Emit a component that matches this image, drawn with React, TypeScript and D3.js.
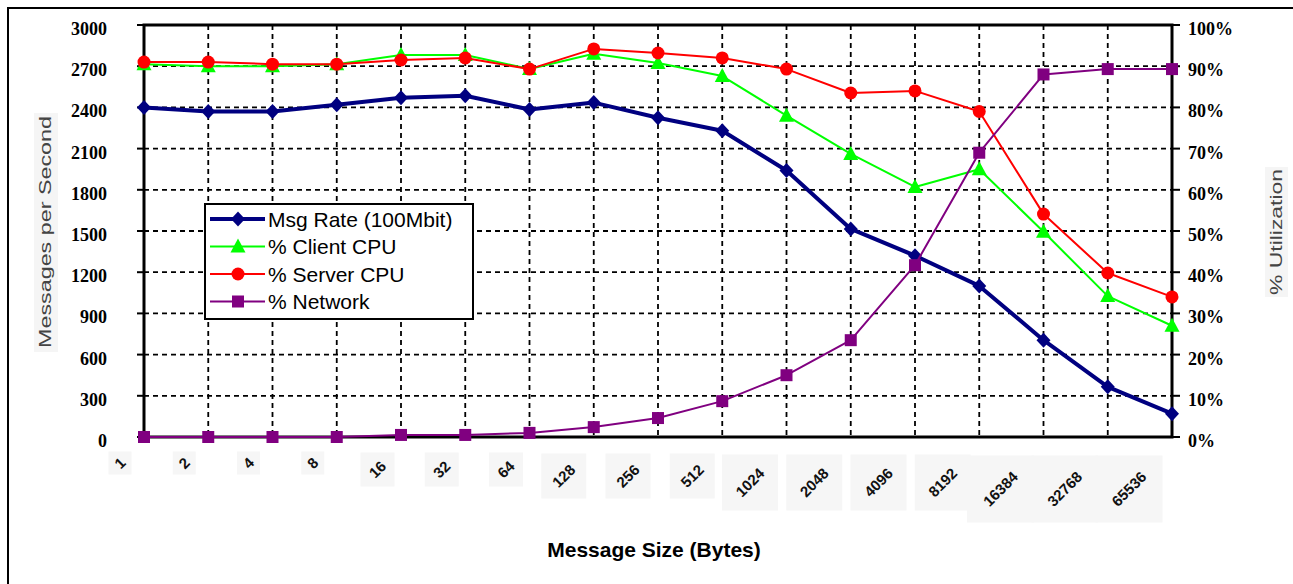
import React from 'react';
import * as d3 from 'd3';

const categories = ['1', '2', '4', '8', '16', '32', '64', '128', '256', '512', '1024', '2048', '4096', '8192', '16384', '32768', '65536'];
const msgRate = [2400, 2370, 2370, 2420, 2470, 2485, 2385, 2435, 2325, 2230, 1940, 1515, 1320, 1100, 705, 365, 170];
const clientCpu = [90.5, 90, 90, 90.5, 92.7, 92.7, 89.3, 93, 90.8, 87.6, 78, 68.7, 60.7, 65, 49.8, 34.2, 27];
const serverCpu = [91, 91, 90.5, 90.5, 91.5, 92, 89.3, 94.2, 93.2, 92, 89.3, 83.5, 84, 79, 54.1, 39.8, 34];
const network = [0, 0, 0, 0, 0.5, 0.5, 1, 2.4, 4.6, 8.7, 15, 23.5, 41.7, 69, 88, 89.3, 89.3];
const leftTicks = [0, 300, 600, 900, 1200, 1500, 1800, 2100, 2400, 2700, 3000];
const rightTicks = [0, 10, 20, 30, 40, 50, 60, 70, 80, 90, 100];
const legendLabels = ['Msg Rate (100Mbit)', '% Client CPU', '% Server CPU', '% Network'];

const L = 144, R = 1172, T = 25, B = 437;

function Marker({ type, x, y, color }: { type: string; x: number; y: number; color: string }) {
  if (type === 'diamond') {
    return <path d={`M${x},${y - 7.5}L${x + 7},${y}L${x},${y + 7.5}L${x - 7},${y}Z`} fill={color} />;
  }
  if (type === 'triangle') {
    return <path d={`M${x},${y - 8}L${x + 7.5},${y + 6}L${x - 7.5},${y + 6}Z`} fill={color} />;
  }
  if (type === 'circle') {
    return <circle cx={x} cy={y} r={6.5} fill={color} />;
  }
  return <rect x={x - 6} y={y - 6} width={12} height={12} fill={color} />;
}

export default function App() {
  const x = d3.scalePoint<string>().domain(categories).range([L, R]);
  const yL = d3.scaleLinear().domain([0, 3000]).range([B, T]);
  const yR = d3.scaleLinear().domain([0, 100]).range([B, T]);

  const series = [
    { name: legendLabels[0], vals: msgRate, scale: yL, color: '#000080', width: 4, marker: 'diamond' },
    { name: legendLabels[1], vals: clientCpu, scale: yR, color: '#00ff00', width: 2, marker: 'triangle' },
    { name: legendLabels[2], vals: serverCpu, scale: yR, color: '#ff0000', width: 2, marker: 'circle' },
    { name: legendLabels[3], vals: network, scale: yR, color: '#800080', width: 2, marker: 'square' },
  ];

  const serif = '"Liberation Serif", "Times New Roman", serif';
  const sans = '"Liberation Sans", Arial, sans-serif';

  const lx = 205, ly = 204, lw = 268, lh = 115;

  return (
    <svg width={1293} height={584} style={{ position: 'absolute', left: 0, top: 0, background: '#fff' }}>
      <rect x={8} y={8} width={1300} height={600} fill="none" stroke="#000" strokeWidth={2} />

      {/* grid */}
      {leftTicks.filter(t => t > 0 && t < 3000).map(t => (
        <line key={'h' + t} x1={L} x2={R} y1={yL(t)} y2={yL(t)} stroke="#000" strokeWidth={1.8} strokeDasharray="5,4" />
      ))}
      {categories.slice(1, -1).map(c => (
        <line key={'v' + c} x1={x(c)} x2={x(c)} y1={T} y2={B} stroke="#000" strokeWidth={1.8} strokeDasharray="5,4" />
      ))}

      {/* ticks */}
      {leftTicks.map(t => (
        <g key={'lt' + t}>
          <line x1={L - 7} x2={L} y1={yL(t)} y2={yL(t)} stroke="#000" strokeWidth={2} />
          <text x={107} y={yL(t) + 10} textAnchor="end" fontFamily={serif} fontWeight="bold" fontSize={18}>{t}</text>
        </g>
      ))}
      {rightTicks.map(t => (
        <g key={'rt' + t}>
          <line x1={R} x2={R + 8} y1={yR(t)} y2={yR(t)} stroke="#000" strokeWidth={2} />
          <text x={1188} y={yR(t) + 10} textAnchor="start" fontFamily={serif} fontWeight="bold" fontSize={18}>{t}%</text>
        </g>
      ))}

      {/* frame */}
      <rect x={L} y={T} width={R - L} height={B - T} fill="none" stroke="#000" strokeWidth={3} />

      {/* axis titles */}
      <rect x={34} y={113} width={24} height={239} fill="#f5f5f5" />
      <text transform="translate(51,232) rotate(-90)" textAnchor="middle" fontFamily={sans} fontSize={16} fill="#444" textLength={232} lengthAdjust="spacingAndGlyphs">Messages per Second</text>
      <rect x={1265} y={167} width={23} height={130} fill="#f5f5f5" />
      <text transform="translate(1282,232) rotate(-90)" textAnchor="middle" fontFamily={sans} fontSize={16} fill="#444" textLength={126} lengthAdjust="spacingAndGlyphs">% Utilization</text>

      {/* x labels, centred on their slanted position */}
      {categories.map(c => {
        const n = c.length;
        const mx = (x(c) as number) - 17 - (n - 1) * 6.5 - (n === 1 ? 7 : 0);
        const my = 463 + (n - 1) * 6.5;
        const box = 11 * n + 12;
        return (
          <g key={'xl' + c}>
            <rect x={mx - box / 2} y={my - box / 2} width={box} height={box} fill="#f6f6f6" />
            <text transform={`translate(${mx},${my}) rotate(-45)`} dy="0.35em" textAnchor="middle" fontFamily={sans} fontWeight="bold" fontSize={15} fill="#111">{c}</text>
          </g>
        );
      })}
      <text x={654} y={557} textAnchor="middle" fontFamily={sans} fontWeight="bold" fontSize={21}>Message Size (Bytes)</text>

      {/* series */}
      {series.map(s => {
        const line = d3.line<number>().x((_, i) => x(categories[i]) as number).y(v => s.scale(v));
        return (
          <g key={s.name}>
            <path d={line(s.vals) || ''} fill="none" stroke={s.color} strokeWidth={s.width} strokeLinejoin="round" />
            {s.vals.map((v, i) => (
              <Marker key={i} type={s.marker} x={x(categories[i]) as number} y={s.scale(v)} color={s.color} />
            ))}
          </g>
        );
      })}

      {/* legend */}
      <rect x={lx} y={ly} width={lw} height={lh} fill="#fff" stroke="#000" strokeWidth={2} />
      {series.map((s, i) => {
        const yy = ly + 15 + i * 27.5;
        return (
          <g key={'lg' + i}>
            <line x1={lx + 5} x2={lx + 60} y1={yy} y2={yy} stroke={s.color} strokeWidth={s.width} />
            <Marker type={s.marker} x={lx + 33} y={yy} color={s.color} />
            <text x={lx + 63} y={yy + 7.5} fontFamily={sans} fontSize={21} fill="#000">{s.name}</text>
          </g>
        );
      })}
    </svg>
  );
}
